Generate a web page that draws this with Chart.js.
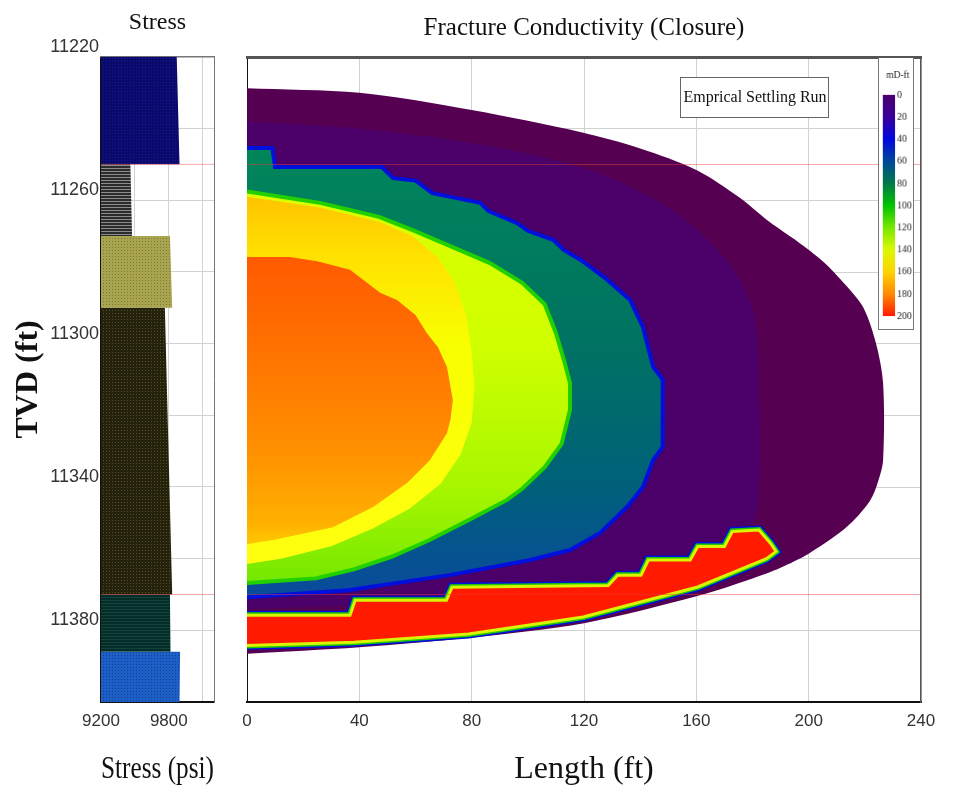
<!DOCTYPE html>
<html>
<head>
<meta charset="utf-8">
<title>Fracture Conductivity (Closure)</title>
<script src="https://cdn.jsdelivr.net/npm/chart.js@4.4.1/dist/chart.umd.min.js"></script>
<style>
  body { margin: 0; background: #fff; }
  #wrap { position: relative; width: 961px; height: 809px; }
  canvas { position: absolute; top: 0; }
  #stress { left: 0; }
  #frac { left: 230px; }
  #cbar { left: 878px; top: 58px; background: #fff; border: 1px solid #777; border-top: none; }
</style>
</head>
<body>
<div id="wrap">
  <canvas id="stress" width="230" height="809"></canvas>
  <canvas id="frac" width="731" height="809"></canvas>
  <canvas id="cbar" width="36" height="272"></canvas>
</div>
<script>
// depth (TVD, ft) shared by both panels
const depthTicks = [11220, 11260, 11300, 11340, 11380];
const boundaryDepths = [11250, 11370];

// stress profile, one entry per layer
const layerTop = [11220, 11250, 11270, 11290, 11370, 11386];
const layerBottom = [11250, 11270, 11290, 11370, 11386, 11400];
const stressTop = [9870, 9460, 9810, 9765, 9810, 9900];
const stressBottom = [9895, 9475, 9830, 9830, 9815, 9895];
const stressGrid = [9200, 9500, 9800, 10100];
const stressTicks = [9200, 9800];

// conductivity contours, [length ft, depth ft]
const outerPurple = [[0, 11228.7], [40, 11230], [80, 11234.8], [119, 11241], [140, 11245.5], [160, 11251.5],
  [175, 11259], [186, 11266], [196, 11271.5], [205, 11277], [213, 11283.5], [219.5, 11290], [224, 11300],
  [226.5, 11311], [226.5, 11332.5], [224.5, 11339], [222, 11343.6], [217, 11348.5], [211, 11352.8],
  [200, 11358.6], [190, 11362.5], [180, 11365.5], [160, 11370.5], [120, 11378], [80, 11382], [40, 11384.7], [0, 11386.5]];
const innerPurple = [[0, 11238], [40, 11240], [80, 11244], [120, 11251], [150, 11262], [170, 11276], [180, 11290],
  [182, 11305], [182, 11345], [178, 11352], [160, 11360], [120, 11367], [80, 11371], [40, 11373], [0, 11374]];
const contour40 = [[0, 11245.4], [9, 11245.4], [10, 11250.7], [48, 11250.7], [52, 11253.8], [60, 11254.5], [66, 11258],
  [83, 11260.7], [86, 11263], [96, 11266.3], [100, 11268.5], [109, 11271], [113, 11274], [119, 11276.7], [128, 11282],
  [136.4, 11287.8], [141, 11295.4], [144.6, 11306.5], [148, 11310], [148, 11328.8], [144.6, 11332.5], [141, 11340],
  [135.3, 11345.6], [125.7, 11352.8], [115, 11357.6], [100, 11360.5], [72, 11364.6], [36, 11368.8], [0, 11370.8]];
const contour100 = [[0, 11257.5], [26, 11260.7], [47, 11264.6], [59, 11268.3], [73, 11273], [86.5, 11277.5], [98, 11283],
  [106, 11289], [110, 11297], [113, 11305], [115, 11311], [115, 11318.5], [112, 11328], [106, 11334.5], [98, 11340.5],
  [92.6, 11343.6], [79, 11349.2], [65, 11354.8], [51.7, 11359.4], [38, 11363], [24.5, 11365.5], [0, 11366.8]];
const contour140 = [[0, 11259], [26, 11262], [47, 11266], [59, 11270], [68, 11276], [74, 11283], [78, 11292], [80, 11302],
  [81, 11312], [80, 11322], [76, 11331], [69, 11339], [58, 11346], [45, 11351.5], [30, 11356.5], [12, 11360], [0, 11361.5]];
const contour160 = [[0, 11275.8], [15.3, 11275.8], [25, 11277], [36.7, 11279.4], [47.4, 11285.8], [53.4, 11287.8],
  [60, 11292], [64, 11297], [68, 11301], [71.2, 11306.5], [73.3, 11315.7], [72.5, 11321], [71.2, 11325], [65.1, 11332.5],
  [57, 11338.9], [44.9, 11345.6], [30.6, 11351.2], [9.3, 11354.8], [0, 11356]];
const settledBank = [[0, 11375.8], [36.7, 11375.8], [38.5, 11371.6], [71, 11371.6], [73, 11368], [128.6, 11367.5],
  [132, 11364.6], [140.3, 11364.6], [142.9, 11360.4], [157.8, 11360.4], [160.5, 11356.6], [170, 11356.6],
  [172.8, 11352.4], [182.3, 11352], [186.4, 11355.7], [188.4, 11358], [185, 11360], [160.5, 11367.9],
  [119.7, 11376.3], [78.9, 11381], [38.1, 11383.3], [0, 11384.2]];

const colorbarTicks = [0, 20, 40, 60, 80, 100, 120, 140, 160, 180, 200];
const colorbarColors = ['#4c006e', '#3a009c', '#0008e0', '#00489a', '#007a4a', '#00c400',
  '#78e800', '#dcf800', '#ffd400', '#ff8a00', '#ff1a00'];

Chart.defaults.font.family = '"Liberation Sans", Arial, sans-serif';
const serif = '"Liberation Serif", "Times New Roman", serif';

function texture(bg, fg, kind) {
  const c = document.createElement('canvas');
  c.width = 3; c.height = 3;
  const g = c.getContext('2d');
  g.fillStyle = bg; g.fillRect(0, 0, 3, 3);
  g.fillStyle = fg;
  if (kind === 'lines') g.fillRect(0, 0, 3, 1);
  else g.fillRect(1, 1, 1, 1);
  return g.createPattern(c, 'repeat');
}

const layerLook = [
  texture('#0a0a6c', '#1a1890', 'dots'),
  texture('#2c2c2c', '#8c8c8c', 'lines'),
  texture('#a8a450', '#7c7832', 'dots'),
  texture('#24220c', '#575020', 'dots'),
  texture('#062c2a', '#12443e', 'lines'),
  texture('#1d5fc6', '#0f3f8f', 'dots')
];

// vertical gradient keyed on depth
function depthGradient(stops) {
  return (c) => {
    const chart = c.chart;
    const y = chart.scales.y;
    if (!chart.chartArea || !y) return stops[0][1];
    const p0 = y.getPixelForValue(stops[0][0]);
    const p1 = y.getPixelForValue(stops[stops.length - 1][0]);
    if (p1 === p0) return stops[0][1];
    const g = chart.ctx.createLinearGradient(0, p0, 0, p1);
    stops.forEach(([d, col]) => g.addColorStop((y.getPixelForValue(d) - p0) / (p1 - p0), col));
    return g;
  };
}

const pts = (arr) => arr.map(([x, y]) => ({x, y}));
function region(arr, fill, order, border, width, tension) {
  return {
    data: pts(arr), showLine: true, fill: 'shape', backgroundColor: fill,
    borderColor: border || 'rgba(0,0,0,0)', borderWidth: width || 0, tension: tension || 0,
    pointRadius: 0, pointHitRadius: 0, clip: 0, order
  };
}
function ring(arr, color, width, order) {
  return { data: pts(arr), showLine: true, fill: false, borderColor: color, borderWidth: width,
    pointRadius: 0, pointHitRadius: 0, clip: 0, order };
}

// ---- stress panel ----
const stressMin = 9200, stressMax = 10200;
const depthMin = 11220, depthMax = 11400;

const stressSets = layerTop.map((top, i) => ({
  data: [{x: stressMin, y: top}, {x: stressTop[i], y: top}, {x: stressBottom[i], y: layerBottom[i]}, {x: stressMin, y: layerBottom[i]}],
  showLine: true, fill: 'shape', backgroundColor: layerLook[i], borderWidth: 0,
  pointRadius: 0, pointHitRadius: 0, clip: 0, order: 5
}));
boundaryDepths.forEach(d => stressSets.push({
  data: [{x: stressMin, y: d}, {x: stressMax, y: d}], showLine: true, borderColor: 'rgba(232,60,60,0.45)',
  borderWidth: 1, pointRadius: 0, pointHitRadius: 0, clip: 0, order: 1
}));

new Chart(document.getElementById('stress'), {
  type: 'scatter',
  data: { datasets: stressSets },
  options: {
    animation: false, responsive: false, events: [],
    layout: { padding: { right: 16 } },
    plugins: {
      legend: { display: false }, tooltip: { enabled: false },
      title: { display: true, text: 'Stress', fullSize: false, color: '#111',
        font: { family: serif, size: 24, weight: 'normal', lineHeight: 1.2 }, padding: { top: 8, bottom: 20 } }
    },
    scales: {
      x: {
        type: 'linear', min: stressMin, max: stressMax,
        afterBuildTicks: s => { s.ticks = stressGrid.map(v => ({value: v})); },
        ticks: { font: { size: 17 }, color: '#333', padding: 9, maxRotation: 0, autoSkip: false,
          callback: v => stressTicks.includes(v) ? String(v) : '' },
        grid: { color: '#d2d2d2', drawTicks: false },
        border: { color: '#111', width: 2 },
        title: { display: true, text: 'Stress (psi)', color: '#111',
          font: { family: serif, size: 32, weight: 'normal', lineHeight: 1.2 }, padding: { top: 0, bottom: 20 } },
        afterFit: s => { s.height = 107; }
      },
      y: {
        type: 'linear', reverse: true, min: depthMin, max: depthMax,
        ticks: { stepSize: 20, font: { size: 18 }, color: '#333', padding: 2, labelOffset: -10, autoSkip: false,
          callback: v => depthTicks.includes(v) ? String(v) : '' },
        grid: { color: '#d2d2d2', drawTicks: false },
        border: { color: '#111', width: 1.5 },
        title: { display: true, text: 'TVD (ft)', color: '#111',
          font: { family: serif, size: 32, weight: 'bold', lineHeight: 1.2 }, padding: { top: 10, bottom: 0 } },
        afterFit: s => { s.width = 101; }
      },
      xTop: {
        type: 'linear', position: 'top', min: stressMin, max: stressMax,
        ticks: { display: false }, grid: { display: false, drawTicks: false },
        border: { color: '#777', width: 1.5 }, afterFit: s => { s.height = 0; }
      },
      yRight: {
        type: 'linear', position: 'right', min: depthMin, max: depthMax,
        ticks: { display: false }, grid: { display: false, drawTicks: false },
        border: { color: '#777', width: 1 }, afterFit: s => { s.width = 0; }
      }
    }
  }
});

// ---- conductivity panel ----
const runLabel = {
  id: 'runLabel',
  afterDatasetsDraw(chart) {
    const {ctx, chartArea} = chart;
    const x = chartArea.left + 433, y = chartArea.top + 20, w = 148, h = 40;
    ctx.save();
    ctx.fillStyle = '#fff';
    ctx.fillRect(x, y, w, h);
    ctx.strokeStyle = '#666';
    ctx.lineWidth = 1;
    ctx.strokeRect(x + 0.5, y + 0.5, w, h);
    ctx.fillStyle = '#111';
    ctx.font = '16px ' + serif;
    ctx.textAlign = 'center';
    ctx.textBaseline = 'middle';
    ctx.fillText('Emprical Settling Run', x + w / 2 + 1, y + h / 2 + 1);
    ctx.restore();
  }
};

const lengthMin = 0, lengthMax = 240;
const fracSets = [
  region(outerPurple, '#560052', 20, null, 0, 0.3),
  region(innerPurple, '#4a0068', 19, null, 0, 0.3),
  region(contour40, depthGradient([[11245, '#00865a'], [11300, '#007262'], [11340, '#00607a'], [11371, '#0a4a9e']]), 18, '#0010dc', 4),
  region(contour100, depthGradient([[11257, '#dcff00'], [11300, '#d0ff00'], [11340, '#a8f600'], [11367, '#74e800']]), 17, '#22d000', 4),
  region(contour140, depthGradient([[11259, '#ffc400'], [11275, '#ffe000'], [11300, '#f8ff00'], [11362, '#ffff10']]), 16),
  region(contour160, depthGradient([[11276, '#ff5a00'], [11300, '#ff7000'], [11330, '#ff9000'], [11350, '#ffb000'], [11356, '#ffc800']]), 15),
  ring(settledBank, '#0010dc', 9, 14),
  ring(settledBank, '#20c800', 6, 13),
  region(settledBank, '#ff1a00', 12, '#d8f400', 3)
];
boundaryDepths.forEach(d => fracSets.push({
  data: [{x: lengthMin, y: d}, {x: lengthMax, y: d}], showLine: true, borderColor: 'rgba(232,60,60,0.45)',
  borderWidth: 1, pointRadius: 0, pointHitRadius: 0, clip: 0, order: 1
}));

new Chart(document.getElementById('frac'), {
  type: 'scatter',
  data: { datasets: fracSets },
  plugins: [runLabel],
  options: {
    animation: false, responsive: false, events: [],
    layout: { padding: { right: 40 } },
    plugins: {
      legend: { display: false }, tooltip: { enabled: false },
      title: { display: true, text: 'Fracture Conductivity (Closure)', fullSize: false, color: '#111',
        font: { family: serif, size: 25, weight: 'normal', lineHeight: 1.2 }, padding: { top: 13, bottom: 14 } }
    },
    scales: {
      x: {
        type: 'linear', min: lengthMin, max: lengthMax,
        ticks: { stepSize: 40, font: { size: 17 }, color: '#333', padding: 9, maxRotation: 0, callback: v => String(v) },
        grid: { color: '#d2d2d2', drawTicks: false },
        border: { color: '#111', width: 2 },
        title: { display: true, text: 'Length (ft)', color: '#111',
          font: { family: serif, size: 32, weight: 'normal', lineHeight: 1.2 }, padding: { top: 0, bottom: 20 } },
        afterFit: s => { s.height = 107; }
      },
      y: {
        type: 'linear', reverse: true, min: depthMin, max: depthMax,
        ticks: { display: false, stepSize: 20 },
        grid: { color: '#d2d2d2', drawTicks: false },
        border: { color: '#111', width: 1 },
        afterFit: s => { s.width = 17; }
      },
      xTop: {
        type: 'linear', position: 'top', min: lengthMin, max: lengthMax,
        ticks: { display: false }, grid: { display: false, drawTicks: false },
        border: { color: '#555', width: 3 }, afterFit: s => { s.height = 0; }
      },
      yRight: {
        type: 'linear', position: 'right', min: depthMin, max: depthMax,
        ticks: { display: false }, grid: { display: false, drawTicks: false },
        border: { color: '#555', width: 1.5 }, afterFit: s => { s.width = 0; }
      }
    }
  }
});

// ---- colour bar ----
new Chart(document.getElementById('cbar'), {
  type: 'bar',
  data: {
    labels: [''],
    datasets: [{
      data: [[colorbarTicks[0], colorbarTicks[colorbarTicks.length - 1]]],
      backgroundColor: (c) => {
        const chart = c.chart;
        const y = chart.scales.y;
        if (!chart.chartArea || !y) return colorbarColors[0];
        const p0 = y.getPixelForValue(colorbarTicks[0]);
        const p1 = y.getPixelForValue(colorbarTicks[colorbarTicks.length - 1]);
        if (p1 === p0) return colorbarColors[0];
        const g = chart.ctx.createLinearGradient(0, p0, 0, p1);
        colorbarTicks.forEach((v, i) => g.addColorStop((y.getPixelForValue(v) - p0) / (p1 - p0), colorbarColors[i]));
        return g;
      },
      barPercentage: 1, categoryPercentage: 1, borderWidth: 0
    }]
  },
  options: {
    animation: false, responsive: false, events: [],
    layout: { padding: { left: 4, bottom: 13 } },
    plugins: {
      legend: { display: false }, tooltip: { enabled: false },
      title: { display: true, text: 'mD-ft', color: '#222',
        font: { family: serif, size: 10, weight: 'normal', lineHeight: 1.2 }, padding: { top: 11, bottom: 14 } }
    },
    scales: {
      x: { display: false },
      y: {
        position: 'right', min: 0, max: 200, reverse: true,
        ticks: { stepSize: 20, autoSkip: false, font: { family: serif, size: 10.5 }, color: '#222', padding: 2 },
        grid: { display: false, drawTicks: false },
        border: { display: false },
        afterFit: s => { s.width = 19; }
      }
    }
  }
});
</script>
</body>
</html>
